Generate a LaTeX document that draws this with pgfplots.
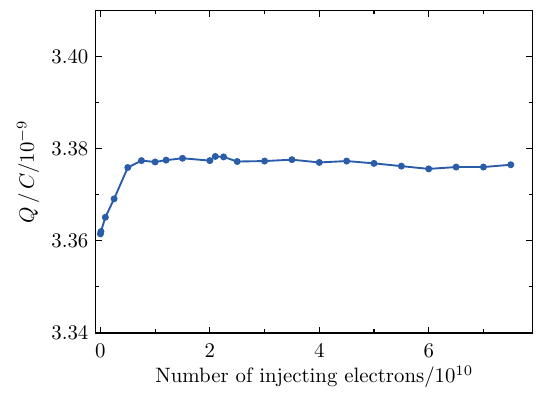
\documentclass[border=0pt]{standalone}
\usepackage{pgfplots}
\pgfplotsset{compat=1.18}
\definecolor{lineblue}{HTML}{2A5CAA}
\begin{document}
\begin{tikzpicture}
\begin{axis}[
  scale only axis,
  width=210pt, height=155pt,
  xmin=-0.086, xmax=7.9,
  ymin=3.34, ymax=3.410,
  xtick={0,2,4,6},
  minor xtick={1,3,5,7},
  ytick={3.34,3.36,3.38,3.40},
  minor ytick={3.35,3.37,3.39},
  yticklabel style={/pgf/number format/fixed,/pgf/number format/fixed zerofill,/pgf/number format/precision=2},
  xticklabel style={yshift=-2pt},
  tick align=inside,
  major tick length=3pt,
  minor tick length=1.8pt,
  tick style={black, line width=0.6pt},
  axis line style={line width=0.7pt},
  xlabel={Number of injecting electrons$/10^{10}$},
  ylabel={$Q\,/\,C/10^{-9}$},
  xlabel style={yshift=3pt},
  ylabel style={yshift=-1pt},
]
\addplot[color=lineblue, line width=0.9pt, mark=*, mark size=1.2pt, mark options={fill=lineblue}] coordinates {
(0.0,3.3615) (0.01,3.3620) (0.09,3.3651) (0.25,3.3691) (0.5,3.3759) (0.75,3.3774) (1.0,3.3771) (1.2,3.3775) (1.5,3.3779) (2.0,3.3774) (2.1,3.3783) (2.25,3.3782) (2.5,3.3772) (3.0,3.3773) (3.5,3.3776) (4.0,3.3770) (4.5,3.3773) (5.0,3.3768) (5.5,3.3762) (6.0,3.3756) (6.5,3.3760) (7.0,3.3760) (7.5,3.3765)
};
\end{axis}
\path ([xshift=4pt,yshift=5pt]current axis.north east);
\path ([xshift=-46pt,yshift=-27pt]current axis.south west);
\end{tikzpicture}
\end{document}
